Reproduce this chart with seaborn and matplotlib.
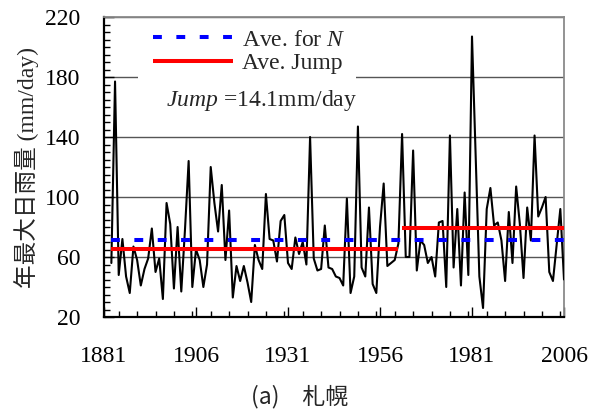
import numpy as np
import pandas as pd
import matplotlib
matplotlib.use("Agg")
import matplotlib.pyplot as plt
import seaborn as sns
from matplotlib.ticker import MultipleLocator
from matplotlib.lines import Line2D
from matplotlib.patches import Rectangle

# ---------------- data ----------------
years = list(range(1883, 2007))
rain = [
    56, 177, 48, 72, 47, 36, 67, 58, 41, 52,      # 1883-1892
    59, 79, 50, 59, 32, 96, 82, 39, 80, 37,       # 1893-1902
    78, 124, 40, 65, 58, 40, 55, 120, 96, 77,     # 1903-1912
    108, 58, 91, 33, 54, 44, 54, 43, 30, 68,      # 1913-1922
    58, 52, 102, 72, 71, 57, 84, 88, 56, 52,      # 1923-1932
    73, 62, 70, 55, 140, 59, 51, 52, 81, 53,      # 1933-1942
    52, 47, 46, 41, 99, 36, 47, 147, 53, 47,      # 1943-1952
    93, 42, 36, 80, 109, 54, 56, 58, 69, 142,     # 1953-1962
    60, 60, 131, 51, 71, 68, 56, 60, 47, 83,      # 1963-1972
    84, 40, 141, 53, 92, 41, 103, 48, 207, 127,   # 1973-1982
    47, 26, 92, 106, 81, 83, 71, 44, 90, 56,      # 1983-1992
    107, 82, 46, 93, 71, 141, 87, 93, 100, 50,    # 1993-2002
    44, 68, 92, 45,                               # 2003-2006
]
ave_all_span = [1883, 2006]
ave_all = 71.1
pre_span = [1883, 1961]
ave_pre = 65.3
post_span = [1962, 2006]
ave_post = 79.4
jump_text = r"$Jump$ =14.1mm/day"
xticks = [1881, 1906, 1931, 1956, 1981, 2006]
yticks = [20, 60, 100, 140, 180, 220]
ylabel = "年最大日雨量 (mm/day)"
caption = "(a)\u3000札幌"

# ---------------- style ----------------
sns.set_theme(style="ticks")
plt.rcParams["font.family"] = ["Liberation Serif", "Noto Sans CJK JP"]
plt.rcParams["mathtext.fontset"] = "custom"
plt.rcParams["mathtext.it"] = "Liberation Serif:italic"
plt.rcParams["mathtext.rm"] = "Liberation Serif"

FS = 17
fig = plt.figure(figsize=(5.9, 4.19), dpi=100)
ax = fig.add_axes([104 / 590, 1 - 317 / 419, 460 / 590, 300 / 419])

df = pd.DataFrame({"year": years, "rain": rain})
sns.lineplot(data=df, x="year", y="rain", color="black", lw=1.5, ax=ax, zorder=3)

blue_kw = dict(color="#0000ff", lw=2.9, dashes=(2.2, 3.6), dash_capstyle="butt")
red_kw = dict(color="#ff0000", lw=2.9, solid_capstyle="butt")
ax.plot(ave_all_span, [ave_all, ave_all], zorder=4, **blue_kw)
ax.plot(pre_span, [ave_pre, ave_pre], zorder=4, **red_kw)
ax.plot(post_span, [ave_post, ave_post], zorder=4, **red_kw)

ax.set_xlim(1881, 2006)
ax.set_ylim(20, 220)
ax.set_xticks(xticks)
ax.set_yticks(yticks)
ax.xaxis.set_minor_locator(MultipleLocator(5))
ax.yaxis.set_minor_locator(MultipleLocator(5))
ax.set_xlabel("")
ax.set_ylabel(ylabel, fontsize=FS, labelpad=4)

ax.tick_params(axis="both", which="both", direction="in", top=False, right=False,
               colors="black", width=1.0)
ax.tick_params(axis="both", which="major", length=7)
ax.tick_params(axis="both", which="minor", length=4.5)
ax.tick_params(axis="x", which="major", labelsize=FS, pad=21)
ax.tick_params(axis="y", which="major", labelsize=FS, pad=17)

ax.set_axisbelow(True)
ax.yaxis.grid(True, color="#555555", lw=1.0)
ax.xaxis.grid(False)

for s in ["left", "bottom"]:
    ax.spines[s].set_color("black")
    ax.spines[s].set_linewidth(1.6)
for s in ["top", "right"]:
    ax.spines[s].set_color("#8a8a8a")
    ax.spines[s].set_linewidth(1.3)
    ax.spines[s].set_visible(True)

# white area behind legend hides part of the 180 gridline
ax.add_patch(Rectangle(((138 - 104) / 460, (317 - 88) / 300), (356 - 138) / 460,
                       (88 - 20) / 300, transform=ax.transAxes, facecolor="white",
                       edgecolor="none", zorder=1.5))

handles = [Line2D([], [], **blue_kw), Line2D([], [], **red_kw)]
leg = ax.legend(handles, ["Ave. for $N$", "Ave. Jump"], loc="upper left",
                bbox_to_anchor=((153 - 104) / 460, (317 - 29) / 300),
                frameon=False, fontsize=FS, handlelength=3.4, handletextpad=0.35,
                labelspacing=0.08, borderpad=0, borderaxespad=0)
leg.set_zorder(6)

ax.text((262 - 104) / 460, (317 - 100) / 300, jump_text, transform=ax.transAxes,
        fontsize=FS, ha="center", va="center", zorder=6)

fig.text(300 / 590, 1 - 397 / 419, caption, fontsize=16.5, ha="center", va="center",
         family=["Noto Sans CJK JP", "DejaVu Sans"])

fig.savefig("out.png", dpi=100)
